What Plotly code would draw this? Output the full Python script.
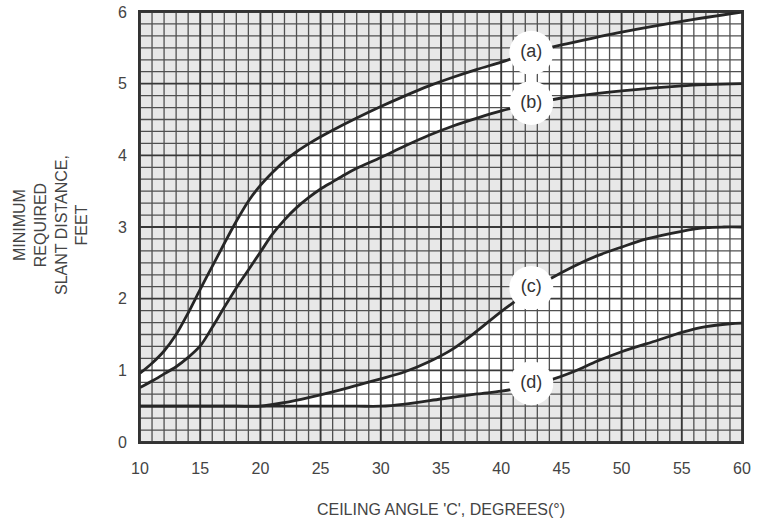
import numpy as np
import plotly.graph_objects as go

# Curve data (ceiling angle in degrees, minimum slant distance in feet)
a_x = [10, 11, 12, 13, 14, 15, 16, 17, 18, 19, 20, 21, 22, 23, 24, 25, 26, 28, 30, 32, 34, 36, 38, 40, 42, 45, 48, 50, 55, 60]
a_y = [0.96, 1.1, 1.27, 1.5, 1.8, 2.13, 2.45, 2.77, 3.08, 3.36, 3.58, 3.76, 3.92, 4.05, 4.16, 4.26, 4.35, 4.52, 4.68, 4.83, 4.97, 5.09, 5.2, 5.3, 5.41, 5.54, 5.65, 5.72, 5.87, 6.0]

b_x = [10, 11, 12, 13, 14, 15, 16, 17, 18, 19, 20, 21, 22, 23, 24, 25, 26, 27, 28, 30, 32, 34, 36, 38, 40, 42, 45, 50, 55, 60]
b_y = [0.76, 0.85, 0.95, 1.05, 1.18, 1.34, 1.6, 1.88, 2.15, 2.4, 2.65, 2.9, 3.1, 3.27, 3.41, 3.53, 3.63, 3.73, 3.82, 3.97, 4.13, 4.28, 4.41, 4.52, 4.62, 4.7, 4.8, 4.9, 4.97, 5.0]

c_x = [10, 14, 18, 20, 22, 24, 26, 28, 30, 32, 34, 36, 38, 40, 42, 44, 46, 48, 50, 52, 55, 57, 58.5, 60]
c_y = [0.5, 0.5, 0.5, 0.5, 0.55, 0.62, 0.7, 0.79, 0.88, 0.98, 1.12, 1.3, 1.55, 1.82, 2.06, 2.27, 2.45, 2.6, 2.72, 2.83, 2.94, 2.99, 3.0, 3.0]

d_x = [10, 15, 20, 25, 28, 30, 32, 35, 38, 40, 42, 44, 46, 48, 50, 53, 55, 57, 59, 60]
d_y = [0.5, 0.5, 0.5, 0.5, 0.5, 0.5, 0.53, 0.6, 0.67, 0.71, 0.77, 0.86, 0.98, 1.13, 1.26, 1.42, 1.53, 1.61, 1.65, 1.66]

label_text = ["(a)", "(b)", "(c)", "(d)"]
label_x = [42.5, 42.5, 42.5, 42.5]
label_y = [5.43, 4.73, 2.15, 0.82]

x_ticks = [10, 15, 20, 25, 30, 35, 40, 45, 50, 55, 60]
y_ticks = [0, 1, 2, 3, 4, 5, 6]

X_MIN, X_MAX = 10, 60
Y_MIN, Y_MAX = 0, 6

fig = go.Figure()

SPL = dict(shape="spline", smoothing=0.9)

# white bands between curve pairs
fig.add_trace(go.Scatter(x=b_x, y=b_y, mode="lines", line=dict(width=0, **SPL),
                         hoverinfo="skip", showlegend=False))
fig.add_trace(go.Scatter(x=a_x, y=a_y, mode="lines", line=dict(width=0, **SPL),
                         fill="tonexty", fillcolor="white", hoverinfo="skip", showlegend=False))
fig.add_trace(go.Scatter(x=d_x, y=d_y, mode="lines", line=dict(width=0, **SPL),
                         hoverinfo="skip", showlegend=False))
fig.add_trace(go.Scatter(x=c_x, y=c_y, mode="lines", line=dict(width=0, **SPL),
                         fill="tonexty", fillcolor="white", hoverinfo="skip", showlegend=False))


def grid_segments(values, vertical):
    xs, ys = [], []
    for v in values:
        if vertical:
            xs += [v, v, None]
            ys += [Y_MIN, Y_MAX, None]
        else:
            xs += [X_MIN, X_MAX, None]
            ys += [v, v, None]
    return xs, ys


minor_v = [v for v in range(X_MIN, X_MAX + 1) if v % 5 != 0]
major_v = [v for v in range(X_MIN, X_MAX + 1) if v % 5 == 0]
minor_h = [k / 6 for k in range(0, 37) if k % 6 != 0]
major_h = [k / 6 for k in range(0, 37) if k % 6 == 0]

for vals, vert, w, col in [(minor_v, True, 1.3, "#505050"), (minor_h, False, 1.3, "#505050"),
                           (major_v, True, 1.9, "#383838"), (major_h, False, 1.9, "#383838")]:
    gx, gy = grid_segments(vals, vert)
    fig.add_trace(go.Scatter(x=gx, y=gy, mode="lines", line=dict(width=w, color=col),
                             hoverinfo="skip", showlegend=False))

for cx, cy in [(a_x, a_y), (b_x, b_y), (c_x, c_y), (d_x, d_y)]:
    fig.add_trace(go.Scatter(x=cx, y=cy, mode="lines",
                             line=dict(width=2.8, color="#262626", **SPL),
                             hoverinfo="skip", showlegend=False))

fig.add_trace(go.Scatter(x=label_x, y=label_y, mode="markers+text", text=label_text,
                         textposition="middle center",
                         textfont=dict(family="Liberation Sans, Arial, sans-serif", size=18, color="#333333"),
                         marker=dict(size=44, color="white", line=dict(width=0)),
                         hoverinfo="skip", showlegend=False))

fig.update_layout(
    width=760, height=529,
    margin=dict(l=140, r=18, t=12, b=87, autoexpand=False),
    paper_bgcolor="white",
    plot_bgcolor="#e8e8e8",
    font=dict(family="Liberation Sans, Arial, sans-serif", size=16, color="#444444"),
    showlegend=False,
)
fig.update_xaxes(range=[X_MIN, X_MAX], tickvals=x_ticks, showgrid=False, zeroline=False,
                 showline=True, mirror=True, linecolor="#333333", linewidth=2,
                 ticks="", ticklabelstandoff=11, tickfont=dict(size=16, color="#444444"),
                 title=dict(text="CEILING ANGLE 'C', DEGREES(°)", standoff=28,
                            font=dict(size=16, color="#444444")))
fig.update_yaxes(range=[Y_MIN, Y_MAX], tickvals=y_ticks, showgrid=False, zeroline=False,
                 showline=True, mirror=True, linecolor="#333333", linewidth=2,
                 ticks="", ticklabelstandoff=8, tickfont=dict(size=16, color="#444444"))

fig.add_annotation(text="MINIMUM<br>REQUIRED<br>SLANT DISTANCE,<br>FEET",
                   xref="paper", yref="paper", x=(50 - 140) / 602, y=(442 - 225) / 430,
                   xanchor="center", yanchor="middle", textangle=-90, showarrow=False,
                   font=dict(size=16, color="#444444"), align="center")

fig.write_html("out.html", config={"displayModeBar": False},
               post_script="document.body.style.margin='0';document.body.style.overflow='hidden';")
